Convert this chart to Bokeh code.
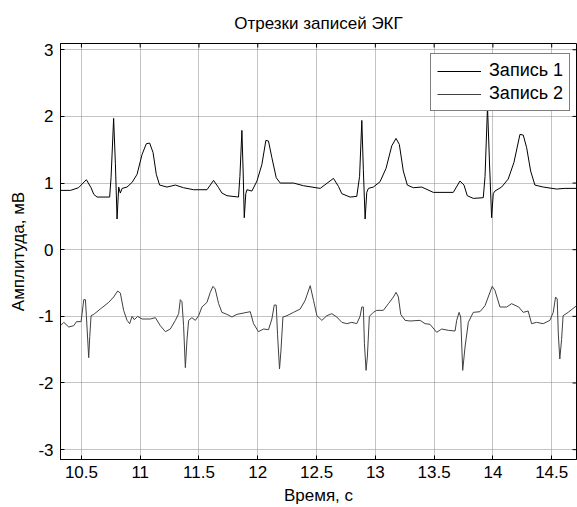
from bokeh.plotting import figure
from bokeh.models import FixedTicker, Legend, LegendItem, Range1d
from bokeh.embed import file_html
from bokeh.resources import INLINE

# ---- data ----
title_text = "Отрезки записей ЭКГ"
x_label = "Время, с"
y_label = "Амплитуда, мВ"
series_names = ["Запись 1", "Запись 2"]

x_ticks = [10.5, 11, 11.5, 12, 12.5, 13, 13.5, 14, 14.5]
x_tick_labels = ["10.5", "11", "11.5", "12", "12.5", "13", "13.5", "14", "14.5"]
y_ticks = [-3, -2, -1, 0, 1, 2, 3]
y_tick_labels = ["-3", "-2", "-1", "0", "1", "2", "3"]
x_lim = [10.322, 14.711]
y_lim = [-3.148, 3.094]

# Запись 1 (upper trace)
t1 = [10.322, 10.407, 10.475, 10.542, 10.582, 10.605, 10.633, 10.740, 10.752, 10.774,
      10.789, 10.803, 10.817, 10.831, 10.846, 10.888, 10.931, 10.973, 11.016, 11.052,
      11.080, 11.109, 11.137, 11.165, 11.228, 11.299, 11.369, 11.454, 11.568, 11.624,
      11.667, 11.695, 11.738, 11.836, 11.848, 11.865, 11.876, 11.885, 11.898, 11.908,
      11.950, 11.993, 12.035, 12.069, 12.091, 12.120, 12.157, 12.191, 12.304, 12.389,
      12.531, 12.644, 12.686, 12.715, 12.785, 12.842, 12.866, 12.885, 12.898, 12.913,
      12.927, 12.941, 12.983, 13.040, 13.091, 13.140, 13.176, 13.204, 13.238, 13.272,
      13.323, 13.395, 13.493, 13.663, 13.720, 13.754, 13.782, 13.833, 13.918, 13.933,
      13.954, 13.971, 13.989, 14.003, 14.017, 14.074, 14.130, 14.179, 14.230, 14.258,
      14.287, 14.321, 14.357, 14.428, 14.542, 14.612, 14.712]
v1 = [0.89, 0.89, 0.93, 1.05, 0.93, 0.83, 0.79, 0.79, 1.08, 1.97,
      1.29, 0.46, 0.94, 0.85, 0.92, 0.94, 1.01, 1.13, 1.43, 1.59,
      1.60, 1.46, 1.13, 0.97, 0.94, 0.97, 0.93, 0.90, 0.90, 1.04,
      0.93, 0.85, 0.81, 0.79, 1.10, 1.79, 1.15, 0.48, 0.84, 0.90,
      0.88, 1.03, 1.28, 1.64, 1.63, 1.38, 1.08, 1.00, 1.00, 0.96,
      0.92, 1.07, 0.95, 0.84, 0.79, 0.80, 1.10, 1.94, 1.20, 0.46,
      0.86, 0.92, 0.94, 1.02, 1.22, 1.56, 1.67, 1.58, 1.18, 0.97,
      0.93, 0.94, 0.86, 0.86, 1.03, 0.97, 0.81, 0.77, 0.78, 1.10,
      2.15, 1.30, 0.48, 0.84, 0.88, 0.94, 1.06, 1.31, 1.73, 1.72,
      1.53, 1.18, 0.97, 0.94, 0.91, 0.92, 0.92]

# Запись 2 (lower trace)
t2 = [10.322, 10.350, 10.392, 10.435, 10.458, 10.497, 10.520, 10.534, 10.542, 10.562,
      10.571, 10.582, 10.605, 10.661, 10.732, 10.774, 10.808, 10.831, 10.859, 10.888,
      10.910, 10.931, 10.950, 10.978, 11.016, 11.086, 11.129, 11.171, 11.214, 11.256,
      11.299, 11.327, 11.341, 11.355, 11.369, 11.384, 11.398, 11.412, 11.440, 11.469,
      11.497, 11.525, 11.568, 11.596, 11.619, 11.638, 11.667, 11.695, 11.738, 11.780,
      11.823, 11.908, 11.936, 11.964, 12.006, 12.049, 12.091, 12.120, 12.140, 12.157,
      12.168, 12.185, 12.197, 12.214, 12.248, 12.304, 12.361, 12.403, 12.446, 12.474,
      12.503, 12.545, 12.588, 12.630, 12.672, 12.715, 12.757, 12.800, 12.842, 12.870,
      12.885, 12.898, 12.907, 12.921, 12.932, 12.949, 12.983, 13.012, 13.068, 13.111,
      13.154, 13.176, 13.196, 13.216, 13.253, 13.295, 13.380, 13.423, 13.465, 13.522,
      13.564, 13.621, 13.678, 13.692, 13.712, 13.726, 13.743, 13.763, 13.791, 13.805,
      13.833, 13.890, 13.933, 13.960, 13.994, 14.017, 14.060, 14.117, 14.159, 14.219,
      14.258, 14.300, 14.329, 14.371, 14.428, 14.485, 14.513, 14.533, 14.547, 14.556,
      14.569, 14.584, 14.597, 14.640, 14.712]
v2 = [-1.14, -1.09, -1.16, -1.14, -1.08, -1.08, -0.75, -0.75, -0.99, -1.62,
      -1.30, -0.99, -0.97, -0.89, -0.79, -0.71, -0.62, -0.65, -0.91, -1.06,
      -1.11, -1.00, -1.05, -1.00, -1.04, -1.04, -1.02, -1.14, -1.23, -1.19,
      -1.06, -0.96, -0.75, -0.78, -1.14, -1.77, -1.35, -1.06, -1.02, -1.06,
      -0.99, -0.86, -0.79, -0.64, -0.55, -0.59, -0.81, -0.94, -0.97, -1.01,
      -0.97, -0.94, -0.93, -1.11, -1.23, -1.19, -1.20, -1.04, -0.83, -0.83,
      -1.27, -1.79, -1.52, -1.01, -0.99, -0.94, -0.89, -0.76, -0.54, -0.76,
      -0.99, -1.06, -0.99, -0.96, -1.01, -1.09, -1.11, -1.09, -1.11, -1.00,
      -0.86, -0.86, -1.41, -1.81, -1.61, -1.00, -0.94, -0.91, -0.91, -0.81,
      -0.71, -0.64, -0.71, -0.97, -1.06, -1.07, -1.06, -1.11, -1.12, -1.24,
      -1.19, -1.21, -1.22, -1.06, -0.94, -1.01, -1.81, -1.46, -1.09, -1.04,
      -0.94, -0.93, -0.84, -0.71, -0.55, -0.61, -0.86, -0.86, -0.81, -0.86,
      -0.94, -0.92, -1.11, -1.09, -1.11, -1.06, -0.94, -0.71, -0.74, -1.25,
      -1.64, -1.35, -0.99, -0.94, -0.84]

FONT = "Liberation Sans"
FS = "17px"

p = figure(width=577, height=507,
           x_range=Range1d(x_lim[0], x_lim[1]), y_range=Range1d(y_lim[0], y_lim[1]),
           output_backend="svg", toolbar_location=None,
           min_border_left=60, min_border_right=1,
           min_border_top=42, min_border_bottom=48)
p.background_fill_color = "white"
p.border_fill_color = "white"
p.outline_line_color = "black"
p.outline_line_width = 1

p.title.text = title_text
p.title.align = "center"
p.title.text_font = FONT
p.title.text_font_size = FS
p.title.text_font_style = "normal"
p.title.text_color = "black"
p.title.standoff = 22

# grid (dotted)
p.xgrid.ticker = FixedTicker(ticks=x_ticks)
p.ygrid.ticker = FixedTicker(ticks=y_ticks)
for g in (p.xgrid[0], p.ygrid[0]):
    g.grid_line_color = "#888888"
    g.grid_line_dash = "1 1"
    g.grid_line_width = 1

r1 = p.line(t1, v1, line_color="black", line_width=1)
r2 = p.line(t2, v2, line_color="#404040", line_width=1)

# mirrored inward ticks on the top and right edges
p.ray(x=x_ticks, y=y_lim[1], length=4, length_units="screen",
      angle=-90, angle_units="deg", line_color="black", line_width=1)
p.ray(x=x_lim[1], y=y_ticks, length=4, length_units="screen",
      angle=180, angle_units="deg", line_color="black", line_width=1)

def style_axis(ax, ticks, labels):
    ax.ticker = FixedTicker(ticks=ticks)
    ax.major_label_overrides = {k: lab for k, lab in zip(ticks, labels)}
    ax.major_tick_in = 4
    ax.major_tick_out = 0
    ax.minor_tick_in = 0
    ax.minor_tick_out = 0
    ax.axis_line_color = "black"
    ax.major_tick_line_color = "black"
    ax.major_label_text_font = FONT
    ax.major_label_text_color = "black"
    ax.major_label_text_font_size = FS

style_axis(p.xaxis[0], x_ticks, x_tick_labels)
style_axis(p.yaxis[0], y_ticks, y_tick_labels)
p.xaxis[0].major_label_standoff = 6
p.yaxis[0].major_label_standoff = 7
for ax, lab in ((p.xaxis[0], x_label), (p.yaxis[0], y_label)):
    ax.axis_label = lab
    ax.axis_label_text_font = FONT
    ax.axis_label_text_font_size = FS
    ax.axis_label_text_font_style = "normal"
    ax.axis_label_text_color = "black"
p.xaxis[0].axis_label_standoff = 5
p.yaxis[0].axis_label_standoff = 7

legend = Legend(items=[LegendItem(label=series_names[0], renderers=[r1]),
                       LegendItem(label=series_names[1], renderers=[r2])],
                location=(370, 348))
legend.border_line_color = "black"
legend.border_line_width = 1
legend.background_fill_color = "white"
legend.background_fill_alpha = 1
legend.label_text_font = FONT
legend.label_text_font_size = "18px"
legend.label_text_color = "black"
legend.glyph_width = 44
legend.glyph_height = 20
legend.label_height = 20
legend.label_standoff = 8
legend.padding = 6
legend.spacing = 2
legend.margin = 0
p.add_layout(legend, "center")

open("out.html", "w").write(file_html(p, INLINE))
